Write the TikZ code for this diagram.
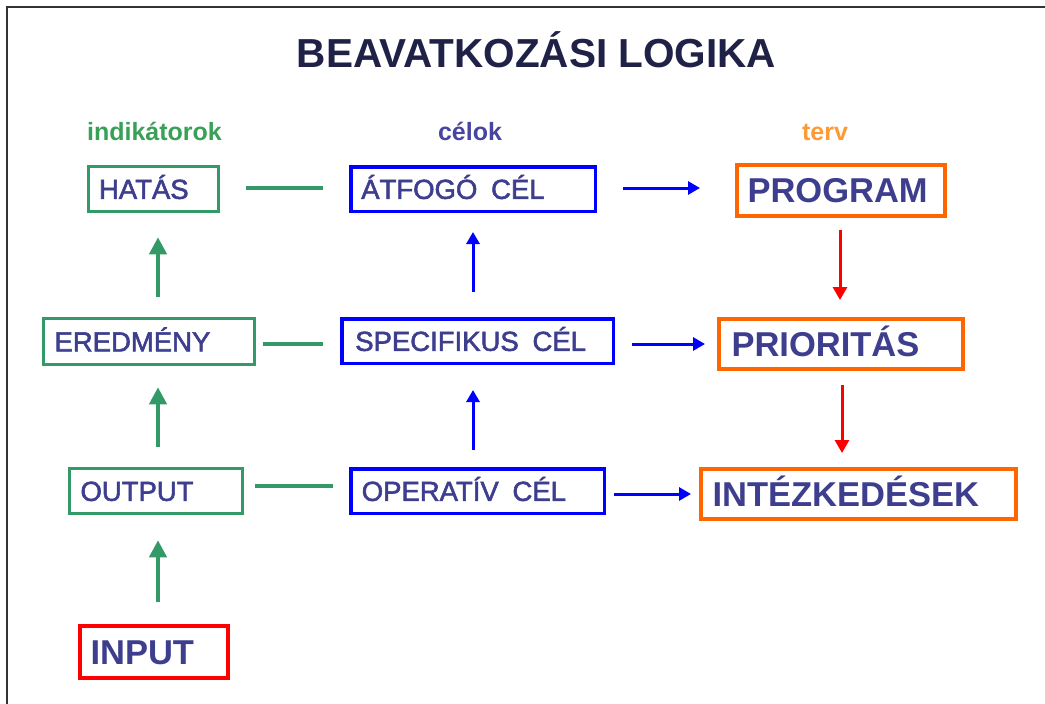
\documentclass[tikz,border=0pt]{standalone}
\usepackage{fontspec}
\setmainfont{Liberation Sans}
\newfontfamily\medfont{Liberation Sans}[FakeBold=2]
\usetikzlibrary{arrows.meta}
\definecolor{txt}{RGB}{62,62,142}
\definecolor{titlec}{RGB}{31,33,71}
\definecolor{gbox}{RGB}{51,153,102}
\definecolor{lgreen}{RGB}{58,160,88}
\definecolor{lnavy}{RGB}{70,70,160}
\definecolor{lorange}{RGB}{255,153,51}
\definecolor{orng}{RGB}{255,102,0}
\begin{document}
\begin{tikzpicture}[x=1pt,y=-1pt,
  box/.style={draw, fill=white, align=left, inner ysep=0pt, text=txt},
  small/.style={font=\medfont\fontsize{27.5pt}{30pt}\selectfont, text height=19.7pt, text depth=0pt},
  big/.style={font=\bfseries\fontsize{34.5pt}{38pt}\selectfont, text height=24.7pt, text depth=0pt},
  gbx/.style={box, small, draw=gbox, line width=3.5pt},
  bbx/.style={box, small, draw=blue, line width=3.5pt},
  obx/.style={box, big, draw=orng, line width=4pt},
  rbx/.style={box, big, draw=red, line width=4pt},
  lab/.style={font=\bfseries\fontsize{25pt}{28pt}\selectfont, anchor=base},
  gline/.style={draw=gbox, line width=4pt},
  garrow/.style={gline, -{Triangle[width=17pt,length=17pt]}},
  barrow/.style={draw=blue, line width=3pt, -{Triangle[width=13pt,length=12pt]}},
  rarrow/.style={draw=red, line width=3pt, -{Triangle[width=14pt,length=13pt]}},
  frame/.style={draw=black!80, line width=1.5pt}
]
\useasboundingbox (0,0) rectangle (1045,704);
\fill[white] (0,0) rectangle (1045,704);
\draw[frame] (7,704) -- (7,7) -- (1045,7);

% title and column labels
\node[font=\bfseries\fontsize{40.5pt}{44pt}\selectfont, text=titlec, anchor=base] (title) at (536.5,67) {BEAVATKOZÁSI LOGIKA};
\node[lab, text=lgreen] (lind) at (154.5,140) {indikátorok};
\node[lab, text=lnavy] (lcel) at (470,140) {célok};
\node[lab, text=lorange] (lterv) at (825,140) {terv};

% left column (indicators)
\node[gbx, minimum height=45pt, inner xsep=10.5pt, text width=109pt] (hat) at (153.5,189) {HATÁS};
\node[gbx, minimum height=46pt, inner xsep=11pt, text width=189pt] (ered) at (149,341.5) {EREDMÉNY};
\node[gbx, minimum height=45pt, inner xsep=11pt, text width=151pt] (out) at (156,491) {OUTPUT};
\node[rbx, minimum height=52pt, inner xsep=10.5pt, text width=127pt] (inp) at (154,652) {INPUT};

% middle column (objectives)
\node[bbx, minimum height=44.5pt, inner xsep=10.5pt, text width=223.5pt] (atf) at (473,189) {ÁTFOGÓ\hspace{0.5em}CÉL};
\node[bbx, minimum height=44.5pt, inner xsep=13.5pt, text width=244.5pt] (spec) at (477.5,341) {SPECIFIKUS\hspace{0.5em}CÉL};
\node[bbx, minimum height=44.5pt, inner xsep=11pt, text width=231.5pt] (op) at (477.5,491) {OPERATÍV\hspace{0.5em}CÉL};

% right column (plan)
\node[obx, minimum height=51pt, inner xsep=10.5pt, text width=187pt] (prog) at (841,190.5) {PROGRAM};
\node[obx, minimum height=50pt, inner xsep=12.5pt, text width=219pt] (prio) at (841,344) {PRIORITÁS};
\node[obx, minimum height=50pt, inner xsep=11.5pt, text width=292pt] (int) at (858.5,494) {INTÉZKEDÉSEK};

% green vertical arrows
\draw[garrow, shorten <=22pt, shorten >=25pt] ([xshift=4pt]inp.north) -- ([xshift=2pt]out.south);
\draw[garrow, shorten <=20pt, shorten >=21pt] ([xshift=2pt]out.north) -- ([xshift=9pt]ered.south);
\draw[garrow, shorten <=20pt, shorten >=24pt] ([xshift=9pt]ered.north) -- ([xshift=4.5pt]hat.south);

% green horizontal lines
\draw[gline, shorten <=26pt, shorten >=26pt] ([yshift=1pt]hat.east) -- ([yshift=1pt]atf.west);
\draw[gline, shorten <=7pt, shorten >=17pt] ([yshift=-2.5pt]ered.east) -- ([yshift=-3pt]spec.west);
\draw[gline, shorten <=11pt, shorten >=16pt] ([yshift=5pt]out.east) -- ([yshift=5pt]op.west);

% blue arrows
\draw[barrow, shorten <=17pt, shorten >=25pt] ([xshift=-4.5pt]op.north) -- ([xshift=-4.5pt]spec.south);
\draw[barrow, shorten <=25pt, shorten >=19pt] ([xshift=-4.5pt]spec.north) -- (atf.south);
\draw[barrow, shorten <=26pt, shorten >=35pt] ([yshift=1pt]atf.east) -- ([yshift=2.5pt]prog.west);
\draw[barrow, shorten <=17pt, shorten >=12pt] ([yshift=-3pt]spec.east) -- (prio.west);
\draw[barrow, shorten <=8pt, shorten >=8pt] ([yshift=-3pt]op.east) -- (int.west);

% red arrows
\draw[rarrow, shorten <=12pt, shorten >=17pt] ([xshift=-1pt]prog.south) -- ([xshift=-1pt]prio.north);
\draw[rarrow, shorten <=14pt, shorten >=14pt] ([xshift=1pt]prio.south) -- ([xshift=-16.5pt]int.north);
\end{tikzpicture}
\end{document}
